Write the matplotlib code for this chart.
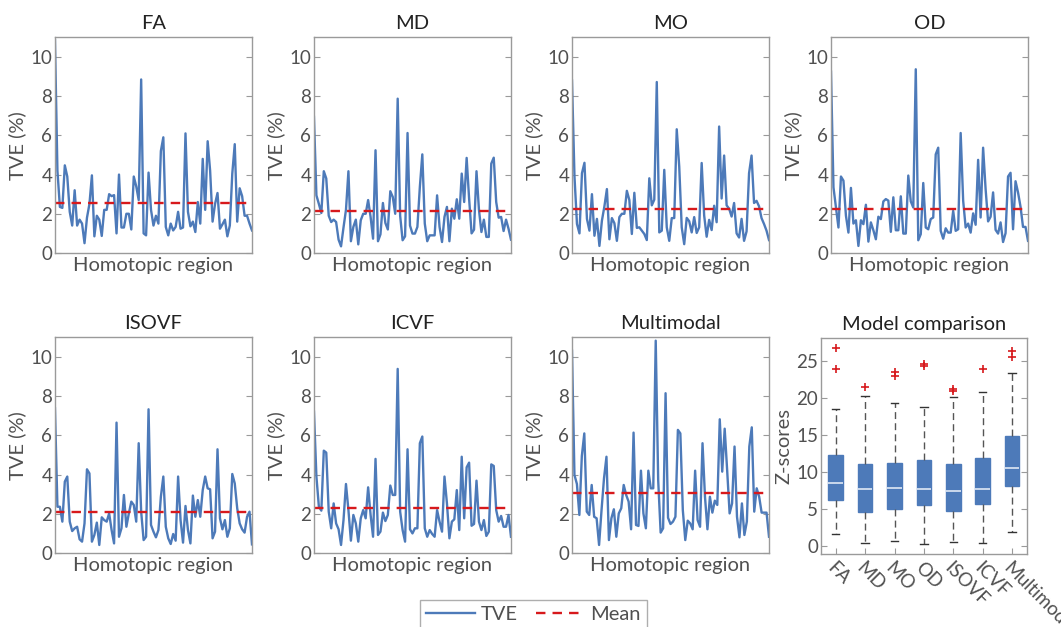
import numpy as np
import matplotlib
matplotlib.use("Agg")
import matplotlib.pyplot as plt

plt.rcParams['font.family'] = ['Lato', 'DejaVu Sans']

# ---- TVE (%) per homotopic region ----
FA = [10.85, 4.2, 2.35, 2.3, 4.47, 3.9, 2.1, 1.4, 3.2, 1.4, 1.7, 1.5, 0.5, 1.8, 2.5, 3.96, 0.85, 1.9,
      1.7, 0.87, 2.2, 2.2, 3.0, 2.9, 2.95, 1.0, 4.0, 1.3, 1.3, 2.0, 2.0, 1.2, 3.9, 3.4, 2.7, 8.85, 1.0,
      0.9, 4.1, 2.2, 1.4, 1.9, 1.5, 5.2, 5.9, 1.33, 0.9, 1.5, 1.15, 1.33, 2.1, 1.24, 1.3, 6.1, 2.1,
      1.36, 1.6, 1.07, 2.6, 1.5, 4.8, 2.2, 5.7, 4.2, 1.6, 2.5, 3.06, 1.24, 1.46, 1.7, 0.85, 1.4, 4.05,
      5.55, 1.6, 3.3, 2.9, 1.9, 1.9, 1.5, 1.15]
MD = [6.94, 2.94, 2.5, 2.04, 4.17, 3.8, 1.9, 1.58, 1.7, 1.58, 0.68, 0.34, 1.3, 2.2, 4.17, 0.6, 1.33,
      1.7, 0.44, 1.67, 2.0, 2.0, 2.7, 1.84, 0.73, 5.24, 0.6, 0.95, 2.55, 1.53, 1.2, 3.15, 2.86, 2.0,
      7.87, 1.9, 0.65, 0.85, 6.12, 1.4, 0.99, 0.99, 1.33, 3.37, 5.03, 1.5, 0.6, 0.9, 0.9, 0.9, 2.94,
      1.33, 0.56, 1.84, 2.35, 0.6, 2.26, 1.75, 2.74, 1.75, 4.05, 2.6, 4.85, 2.77, 1.0, 1.19, 4.17, 2.2,
      1.07, 1.7, 0.82, 0.82, 4.56, 4.86, 2.6, 1.8, 1.84, 1.12, 1.7, 1.24, 0.68]
MO = [8.8, 3.9, 1.48, 1.0, 4.07, 4.6, 1.74, 1.14, 3.0, 0.88, 1.74, 0.36, 1.65, 2.38, 3.26, 0.7, 1.78,
      1.52, 0.62, 1.83, 2.0, 2.0, 3.17, 2.7, 0.97, 3.07, 1.28, 1.31, 1.14, 0.97, 0.66, 3.81, 2.43, 2.72,
      8.72, 1.05, 1.14, 4.24, 1.31, 0.62, 1.78, 1.78, 6.31, 4.41, 1.31, 0.45, 1.79, 1.62, 1.05, 1.83,
      1.02, 1.31, 4.59, 1.91, 0.83, 1.69, 1.17, 2.41, 1.57, 6.45, 2.78, 4.97, 2.43, 2.26, 1.86, 2.55,
      1.0, 0.79, 1.74, 0.62, 1.1, 4.07, 4.97, 2.55, 2.66, 2.38, 1.78, 1.48, 1.14, 0.66]
OD = [9.25, 3.35, 2.32, 1.3, 3.9, 3.69, 1.9, 1.04, 3.32, 1.5, 1.67, 0.36, 1.67, 1.47, 2.46, 0.58, 1.56,
      1.16, 0.7, 1.85, 1.73, 2.63, 2.75, 2.67, 1.08, 2.84, 1.16, 1.16, 2.89, 0.99, 0.99, 3.95, 2.63,
      2.32, 9.37, 0.65, 0.96, 3.57, 1.3, 1.21, 1.73, 1.81, 5.03, 5.37, 1.13, 0.73, 1.26, 1.04, 1.04,
      2.15, 1.13, 1.21, 6.12, 2.67, 1.3, 1.5, 1.04, 2.02, 1.44, 4.75, 1.81, 5.37, 3.26, 1.61, 1.85,
      3.09, 1.18, 0.99, 1.56, 0.56, 1.01, 3.9, 4.09, 1.21, 3.66, 3.09, 2.36, 1.33, 1.33, 0.62]
ISOVF = [7.38, 2.36, 2.36, 1.6, 3.64, 3.9, 1.6, 1.12, 1.26, 1.34, 0.7, 0.58, 1.51, 4.27, 4.06, 0.58,
         0.92, 1.55, 0.41, 1.82, 1.68, 1.6, 2.02, 1.17, 0.49, 6.65, 0.83, 1.26, 2.96, 1.34, 2.02, 2.62,
         2.45, 1.6, 5.6, 2.11, 0.66, 0.83, 7.33, 1.43, 1.09, 0.8, 1.17, 2.87, 3.9, 1.34, 0.75, 0.46,
         0.97, 0.63, 3.9, 1.68, 0.53, 2.4, 1.17, 0.49, 2.93, 1.85, 2.7, 1.85, 3.21, 3.9, 3.3, 3.25, 0.75,
         1.09, 5.29, 1.77, 1.21, 1.68, 0.83, 1.26, 4.03, 3.55, 2.28, 1.51, 1.21, 1.04, 1.85, 2.11, 0.44]
ICVF = [7.21, 3.9, 2.36, 2.16, 5.22, 5.12, 2.11, 1.26, 2.53, 1.51, 1.21, 0.41, 1.68, 3.52, 2.19, 0.63,
        1.94, 1.51, 0.58, 1.77, 2.19, 1.77, 3.35, 1.94, 0.83, 4.8, 0.92, 1.09, 2.06, 1.63, 1.94, 3.44,
        2.96, 2.96, 9.39, 2.11, 1.17, 0.58, 5.29, 1.21, 1.0, 1.26, 1.26, 5.6, 5.94, 1.26, 0.83, 1.17,
        0.97, 0.83, 2.19, 1.6, 1.09, 3.9, 2.53, 0.75, 1.6, 1.72, 3.21, 1.17, 4.91, 1.77, 4.37, 4.61,
        1.39, 1.48, 3.69, 1.6, 1.17, 1.68, 0.87, 1.09, 4.52, 4.44, 2.19, 1.6, 1.89, 1.34, 1.34, 1.94, 0.83]
MULTI = [10.32, 3.98, 3.52, 1.94, 4.95, 6.1, 2.11, 1.94, 3.47, 1.85, 1.77, 0.41, 2.19, 3.81, 4.91, 0.66,
         1.77, 2.23, 0.83, 2.02, 2.28, 3.47, 2.96, 2.62, 1.21, 6.14, 1.43, 1.38, 4.2, 2.02, 1.26, 4.2,
         3.3, 3.3, 10.83, 3.72, 1.04, 1.26, 8.15, 1.8, 1.48, 1.6, 1.85, 6.28, 6.1, 2.19, 0.66, 1.65,
         1.51, 1.21, 4.2, 1.68, 1.34, 5.6, 2.87, 1.21, 2.87, 2.06, 2.67, 2.45, 6.82, 4.15, 6.34, 4.23,
         2.02, 2.53, 5.43, 1.85, 0.8, 2.53, 0.92, 1.6, 5.43, 6.41, 2.11, 3.3, 2.87, 2.06, 2.06, 2.06, 0.83]

titles = ["FA", "MD", "MO", "OD", "ISOVF", "ICVF", "Multimodal"]
series = [FA, MD, MO, OD, ISOVF, ICVF, MULTI]
means = [2.55, 2.15, 2.25, 2.25, 2.1, 2.3, 3.05]

# ---- Model comparison box plot (Z-scores) ----
q1 = [6.2, 4.6, 5.0, 5.5, 4.7, 5.6, 8.0]
med = [8.5, 7.7, 7.8, 7.6, 7.4, 7.6, 10.5]
q3 = [12.2, 11.1, 11.2, 11.6, 11.1, 11.8, 14.8]
whislo = [1.6, 0.3, 0.6, 0.2, 0.5, 0.3, 1.8]
whishi = [18.5, 20.3, 19.3, 18.7, 20.1, 20.8, 23.3]
fliers = [[23.9, 26.7], [21.5], [22.9, 23.5], [24.3, 24.6], [20.9, 21.2], [23.9], [25.5, 26.4]]

BLUE = "#4d7ab9"
RED = "#d7191c"
SPINE = "#9a9a9a"
TXT = "#505050"

fig = plt.figure(figsize=(10.61, 6.27), dpi=100)

xs = [0.0518, 0.2959, 0.5391, 0.7832]
w, h = 0.1857, 0.344
rows = [0.5965, 0.118]


def style(ax):
    for s in ax.spines.values():
        s.set_color(SPINE)
        s.set_linewidth(1.0)
    ax.tick_params(axis='y', direction='in', left=True, right=True, length=4,
                   color=SPINE, labelsize=13.5, labelcolor=TXT, pad=2)
    ax.tick_params(axis='x', bottom=False, top=False)


for i, (name, vals) in enumerate(zip(titles, series)):
    r, c = divmod(i, 4)
    ax = fig.add_axes([xs[c], rows[r], w, h])
    x = np.arange(len(vals))
    ax.plot(x, vals, color=BLUE, lw=1.7, label="TVE")
    ax.axhline(means[i], color=RED, lw=1.7, ls=(0, (4, 3)), label="Mean")
    ax.set_xlim(0, len(vals) - 1)
    ax.set_ylim(0, 11)
    ax.set_yticks([0, 2, 4, 6, 8, 10])
    ax.set_xticks([])
    ax.set_title(name, fontsize=14.5, color="#222222", pad=6)
    ax.set_ylabel("TVE (%)", fontsize=14.5, color=TXT, labelpad=3)
    ax.set_xlabel("Homotopic region", fontsize=14.5, color=TXT, labelpad=3)
    style(ax)
    if i == 0:
        handles, labels = ax.get_legend_handles_labels()

# box plot panel
bx = fig.add_axes([0.7738, 0.117, 0.194, 0.344])
stats = []
for k in range(len(titles)):
    stats.append(dict(med=med[k], q1=q1[k], q3=q3[k], whislo=whislo[k],
                      whishi=whishi[k], fliers=fliers[k], label=titles[k]))
bx.bxp(stats, widths=0.5, patch_artist=True,
       boxprops=dict(facecolor=BLUE, edgecolor=BLUE, lw=1),
       medianprops=dict(color="#dfe8f5", lw=1.2),
       whiskerprops=dict(color="#555555", lw=1, ls=(0, (5, 3))),
       capprops=dict(color="#333333", lw=1),
       capwidths=0.25,
       flierprops=dict(marker="+", markeredgecolor=RED, markersize=6, mew=1.2))
bx.set_xlim(0.5, 7.5)
bx.set_ylim(-1.1, 28.1)
bx.set_yticks([0, 5, 10, 15, 20, 25])
bx.set_title("Model comparison", fontsize=14.5, color="#222222", pad=6)
bx.set_ylabel("Z-scores", fontsize=14.5, color=TXT, labelpad=3)
style(bx)
bx.set_xticks(range(1, 8))
bx.set_xticklabels(titles, rotation=-45, ha="left", va="top", rotation_mode="anchor",
                   fontsize=13.5, color=TXT)
bx.tick_params(axis='x', bottom=True, direction='in', length=4, color=SPINE, pad=4)

fig.legend(handles, labels, loc="upper center", bbox_to_anchor=(0.503, 0.043), ncol=2,
           fontsize=14.5, frameon=True, fancybox=False, edgecolor=SPINE, handlelength=2.4,
           columnspacing=0.9, handletextpad=0.3, borderaxespad=0, borderpad=0.3,
           labelcolor=TXT)

fig.savefig("out.png", dpi=100)
